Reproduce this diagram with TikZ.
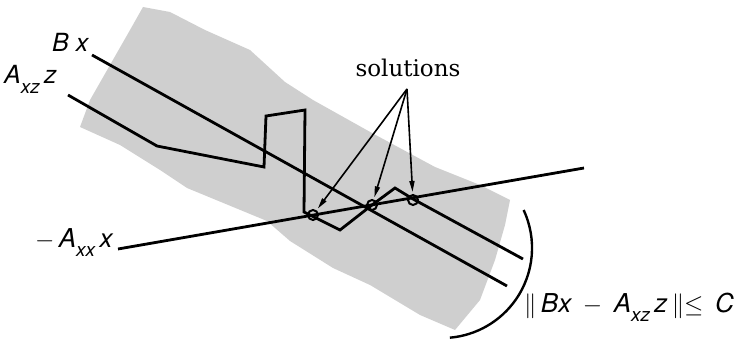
\documentclass[tikz,border=0pt]{standalone}
\usepackage{fontspec}
\newfontfamily\hv{TeX Gyre Heros}
\newfontfamily\dvs{DejaVu Serif}
\usetikzlibrary{arrows.meta}
\newcommand\sbs[1]{\raisebox{-0.38em}{\fontsize{19}{19}\selectfont #1}}
\begin{document}
\begin{tikzpicture}[x=1pt,y=-1pt,
  curve/.style={line width=2.8pt, line join=miter, line cap=butt},
  solc/.style={circle, draw, line width=2pt, minimum size=10pt, inner sep=0pt},
  ptr/.style={line width=1.6pt, -{Triangle[length=11pt,width=5pt]}, shorten >=2pt},
  lab/.style={font=\hv\itshape\fontsize{25}{28}\selectfont, inner sep=0pt, anchor=base west},
  labb/.style={font=\hv\itshape\fontsize{26}{30}\selectfont, inner sep=0pt, anchor=base west},
  shade/.style={fill=black!19}
]
\useasboundingbox (0,0) rectangle (744,342);
% stippled band
\fill[shade] (143,7) -- (170,12) -- (205,30) -- (250,50) -- (285,82) -- (313,100) -- (372,133) -- (435,167)
  -- (480,185) -- (510,200) -- (505,225) -- (495,260) -- (480,300) -- (455,330)
  -- (420,315) -- (370,285) -- (333,268) -- (290,241) -- (267,221) -- (187,188)
  -- (160,170) -- (120,145) -- (80,127) -- (90,100) -- (110,65) -- (130,30) -- cycle;
% coordinates
\coordinate (bx0) at (92,55);
\coordinate (bx1) at (507,286);
\coordinate (ax0) at (118,249);
\coordinate (ax1) at (584,168);
\coordinate (az0) at (68,95);
\coordinate (az1) at (523,259);
\coordinate (apex) at (407,89);
% lines
\draw[curve] (bx0) -- (bx1);
\draw[curve] (ax0) -- (ax1);
\draw[curve] (az0) -- (157,146) -- (264,167) -- (266,116) -- (305,110) -- (304,212)
  -- (340,230) -- (372,205) -- (395,188) -- (413,199) -- (az1);
% solutions
\node[solc] (s1) at (313,215) {};
\node[solc] (s2) at (372,205) {};
\node[solc] (s3) at (413,200) {};
\node[font=\dvs\fontsize{23}{26}\selectfont, inner sep=0pt, anchor=base] (sol) at (408,77) {solutions};
\draw[ptr] (apex) -- (s1);
\draw[ptr] (apex) -- (s2);
\draw[ptr] (apex) -- (s3);
% bound arc
\draw[line width=2.4pt] (523.6,210) arc[start angle=-25, end angle=85, radius=90];
% labels
\node[lab] (lbx) at (52,52) {B x};
\node[lab] (laz) at (4,84) {A\sbs{xz}\,z};
\node[labb] (lax) at (35,247) {$-$\,A\sbs{xx}\,x};
\node[labb] (lnorm) at (524,312) {$\|$\,Bx\, $-$\, A\sbs{xz}\,z\,$\|$$\leq$\, C};
\end{tikzpicture}
\end{document}
